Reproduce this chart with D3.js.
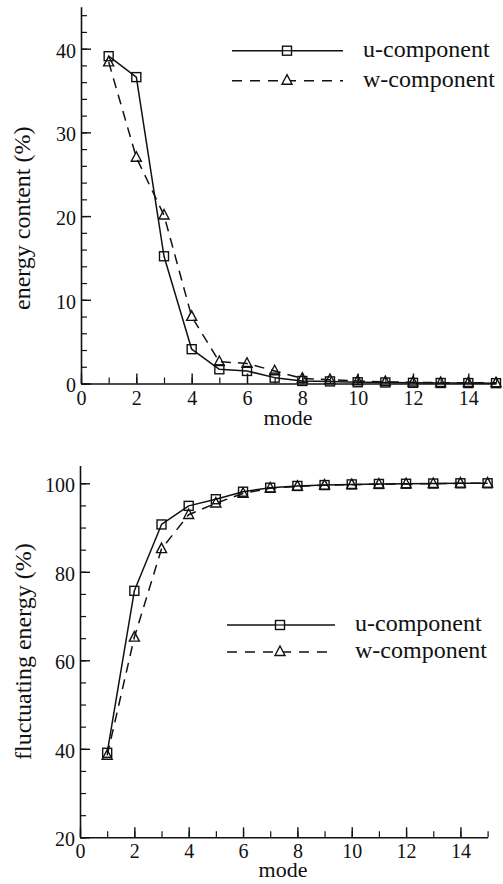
<!DOCTYPE html>
<html>
<head>
<meta charset="utf-8">
<script src="https://cdn.jsdelivr.net/npm/d3@7"></script>
<style>
  html, body { margin: 0; padding: 0; background: #fff; }
  #chart text { font-family: "Liberation Serif", "Times New Roman", serif !important; }
</style>
</head>
<body>
<svg id="chart" width="503" height="884" font-family="Liberation Serif"></svg>
<script>
// ---- data ----
const modes = [1, 2, 3, 4, 5, 6, 7, 8, 9, 10, 11, 12, 13, 14, 15];
const uEnergy = [39.1, 36.6, 15.2, 4.1, 1.7, 1.5, 0.7, 0.3, 0.25, 0.15, 0.12, 0.08, 0.06, 0.05, 0.04];
const wEnergy = [38.4, 27.0, 20.1, 8.0, 2.6, 2.4, 1.5, 0.6, 0.45, 0.3, 0.2, 0.15, 0.1, 0.1, 0.08];
const uCumulative = [39.1, 75.7, 90.7, 94.9, 96.4, 98.1, 99.0, 99.4, 99.6, 99.75, 99.85, 99.9, 99.95, 100, 100];
const wCumulative = [38.5, 65.2, 85.2, 92.9, 95.5, 97.7, 98.9, 99.3, 99.55, 99.7, 99.8, 99.85, 99.9, 100, 100];
const seriesNames = ["u-component", "w-component"];
const xTicks = [0, 2, 4, 6, 8, 10, 12, 14];
const yTicksTop = [0, 10, 20, 30, 40];
const yTicksBottom = [20, 40, 60, 80, 100];

const FONT = "Liberation Serif";
const svg = d3.select("#chart");
const ink = "#111";

function drawSquare(g, x, y, s) {
  g.append("rect").attr("x", x - s / 2).attr("y", y - s / 2).attr("width", s).attr("height", s)
    .attr("fill", "none").attr("stroke", ink).attr("stroke-width", 1.4);
}
function drawTriangle(g, x, y, s) {
  const h = s * 0.95;
  g.append("path")
    .attr("d", `M${x},${y - h * 0.6}L${x + s / 2},${y + h * 0.4}L${x - s / 2},${y + h * 0.4}Z`)
    .attr("fill", "none").attr("stroke", ink).attr("stroke-width", 1.4);
}

function panel(opts) {
  const g = svg.append("g");
  const x = d3.scaleLinear().domain([0, 15]).range(opts.xRange);
  const y = d3.scaleLinear().domain(opts.yDomain).range(opts.yRange);

  // minor ticks
  g.append("g").attr("transform", `translate(0,${opts.yRange[0]})`)
    .call(d3.axisBottom(x).tickValues(d3.range(0, 16, 1)).tickSize(-6).tickSizeOuter(0).tickFormat(""))
    .call(a => a.select(".domain").remove())
    .call(a => a.selectAll("text").remove())
    .call(a => a.selectAll("line").attr("stroke", ink).attr("stroke-width", 1.2));
  g.append("g").attr("transform", `translate(${opts.xRange[0]},0)`)
    .call(d3.axisLeft(y).tickValues(opts.yMinor).tickSize(-6).tickSizeOuter(0).tickFormat(""))
    .call(a => a.select(".domain").remove())
    .call(a => a.selectAll("text").remove())
    .call(a => a.selectAll("line").attr("stroke", ink).attr("stroke-width", 1.2));

  // major axes
  const xa = g.append("g").attr("transform", `translate(0,${opts.yRange[0]})`)
    .call(d3.axisBottom(x).tickValues(xTicks).tickSize(-10).tickSizeOuter(0).tickPadding(7));
  const ya = g.append("g").attr("transform", `translate(${opts.xRange[0]},0)`)
    .call(d3.axisLeft(y).tickValues(opts.yTicks).tickSize(-10).tickSizeOuter(0).tickPadding(5));
  [xa, ya].forEach(a => {
    a.attr("font-family", FONT).attr("font-size", 20);
    a.select(".domain").attr("stroke", ink).attr("stroke-width", 1.6);
    a.selectAll("line").attr("stroke", ink).attr("stroke-width", 1.4);
    a.selectAll("text").attr("font-family", FONT).attr("font-size", 20).attr("fill", ink);
  });
  ya.selectAll("text").attr("dy", "0.42em");

  // axis titles
  g.append("text").attr("x", opts.xTitle[0]).attr("y", opts.xTitle[1])
    .attr("text-anchor", "middle").attr("font-size", 22).attr("font-family", FONT)
    .attr("fill", ink).text("mode");
  g.append("text").attr("transform", `translate(${opts.yTitle[0]},${opts.yTitle[1]}) rotate(-90)`)
    .attr("text-anchor", "start").attr("font-size", 24).attr("font-family", FONT)
    .attr("fill", ink).text(opts.yLabel);

  // lines
  const line = d3.line().x((d, i) => x(modes[i])).y(d => y(d));
  g.append("path").datum(opts.u).attr("d", line).attr("fill", "none")
    .attr("stroke", ink).attr("stroke-width", 1.5).attr("stroke-linejoin", "round");
  g.append("path").datum(opts.w).attr("d", line).attr("fill", "none")
    .attr("stroke", ink).attr("stroke-width", 1.5).attr("stroke-dasharray", "10,7");
  // markers
  opts.u.forEach((v, i) => drawSquare(g, x(modes[i]), y(v), 9));
  opts.w.forEach((v, i) => drawTriangle(g, x(modes[i]), y(v), 10));

  // legend
  const L = opts.legend;
  L.rows.forEach((ly, k) => {
    const lg = g.append("g");
    lg.append("line").attr("x1", L.x1).attr("x2", L.x2).attr("y1", ly).attr("y2", ly)
      .attr("stroke", ink).attr("stroke-width", 1.5)
      .attr("stroke-dasharray", k === 1 ? "10,8" : null);
    const mx = L.mx;
    if (k === 0) {
      lg.append("rect").attr("x", mx - 4.5).attr("y", ly - 4.5).attr("width", 9).attr("height", 9)
        .attr("fill", "#fff").attr("stroke", ink).attr("stroke-width", 1.4);
      lg.append("line").attr("x1", mx - 4.5).attr("x2", mx + 4.5).attr("y1", ly).attr("y2", ly)
        .attr("stroke", ink).attr("stroke-width", 1.2);
    } else {
      lg.append("path").attr("d", `M${mx},${ly - 6}L${mx + 5},${ly + 3.5}L${mx - 5},${ly + 3.5}Z`)
        .attr("fill", "#fff").attr("stroke", ink).attr("stroke-width", 1.4);
    }
    lg.append("text").attr("x", L.tx).attr("y", ly + 6).attr("font-size", 24)
      .attr("font-family", FONT).attr("fill", ink).text(seriesNames[k]);
  });
}

panel({
  xRange: [81, 496], yDomain: [0, 45], yRange: [383.5, 6.8],
  yTicks: yTicksTop, yMinor: d3.range(0, 46, 2),
  u: uEnergy, w: wEnergy,
  xTitle: [288, 425], yTitle: [30, 310], yLabel: "energy content (%)",
  legend: { x1: 232, x2: 343, mx: 287, tx: 363, rows: [50.7, 80.7] }
});

panel({
  xRange: [80, 487.6], yDomain: [20, 104], yRange: [837.3, 465.6],
  yTicks: yTicksBottom, yMinor: d3.range(20, 104, 5),
  u: uCumulative, w: wCumulative,
  xTitle: [283, 877], yTitle: [31, 760], yLabel: "fluctuating energy (%)",
  legend: { x1: 227, x2: 335, mx: 280, tx: 355, rows: [625, 652] }
});
</script>
</body>
</html>
